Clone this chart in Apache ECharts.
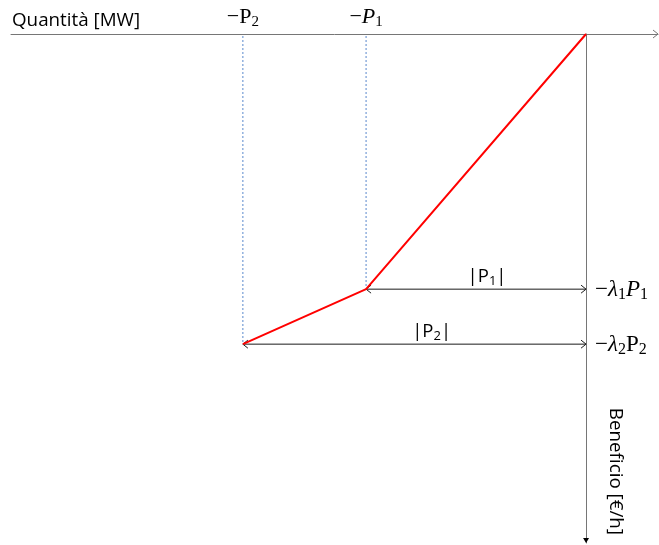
<!DOCTYPE html>
<html>
<head>
<meta charset="utf-8">
<script src="https://cdn.jsdelivr.net/npm/echarts@6/dist/echarts.min.js"></script>
<style>
  html, body { margin: 0; padding: 0; background: #fff; }
  #chart { width: 659px; height: 545px; }
</style>
</head>
<body>
<div id="chart"></div>
<script>
// dati (unità arbitrarie, stessa scala su entrambi gli assi)
const blockNames = ['P1', 'P2'];
const blockQty = [10, 15.6];        // |P_i|  [MW]
const blockBenefit = [11.6, 14.1];  // λ_i P_i  [€/h]

// etichette (testo rich di ECharts)
const qtyTickLabels = ['{m|−}{i|P}{s|1}', '{m|−}{u|P}{s|2}'];
const benefitTickLabels = ['{m|−}{i|λ}{s|1}{i|P}{s|1}', '{m|−}{i|λ}{s|2}{u|P}{s|2}'];
const spanLabels = ['|P{s|1}|', '|P{s|2}|'];

const serif = '"Liberation Serif", serif';
const sans = '"Open Sans", "Noto Sans", sans-serif';

const mathRich = {
  m: { fontFamily: serif, fontSize: 22, lineHeight: 26, color: '#000' },
  u: { fontFamily: serif, fontSize: 22, lineHeight: 26, color: '#000' },
  i: { fontFamily: serif, fontSize: 22, fontStyle: 'italic', lineHeight: 26, color: '#000' },
  s: { fontFamily: serif, fontSize: 15, lineHeight: 16, padding: [10, 0, 0, 0], color: '#000' }
};
// etichette a destra, un filo più grandi
const mathRichBig = {
  m: { fontFamily: serif, fontSize: 23, lineHeight: 27, color: '#000' },
  u: { fontFamily: serif, fontSize: 23, lineHeight: 27, color: '#000' },
  i: { fontFamily: serif, fontSize: 23, fontStyle: 'italic', lineHeight: 27, color: '#000' },
  s: { fontFamily: serif, fontSize: 16, lineHeight: 17, padding: [10, 0, 0, 0], color: '#000' }
};
const sansRich = {
  s: { fontFamily: sans, fontSize: 13, lineHeight: 14, padding: [9, 0, 0, 0], color: '#000' }
};

// spezzata rossa: origine e punti (-P_i, -λ_i P_i)
const curve = [[0, 0]];
blockQty.forEach((q, i) => curve.push([-q, -blockBenefit[i]]));

const X_MIN = -26.14, X_MAX = 3.27;
const Y_MIN = -23.14, Y_MAX = 0;

const chart = echarts.init(document.getElementById('chart'));

// freccia aperta "<" / ">" in pixel
function chevron(tip, dir, len, half, color) {
  const nx = -dir[1], ny = dir[0];
  return {
    type: 'polyline',
    shape: { points: [
      [tip[0] - dir[0] * len + nx * half, tip[1] - dir[1] * len + ny * half],
      tip,
      [tip[0] - dir[0] * len - nx * half, tip[1] - dir[1] * len - ny * half]
    ] },
    style: { stroke: color, lineWidth: 1, fill: null }
  };
}

const option = {
  animation: false,
  grid: { left: 11, right: 1, top: 34, bottom: 2, containLabel: false, outerBoundsMode: 'none' },
  xAxis: {
    type: 'value',
    position: 'top',
    min: X_MIN,
    max: X_MAX,
    name: 'Quantità [MW]',
    nameLocation: 'start',
    nameGap: 0,
    nameTextStyle: {
      fontFamily: sans, fontSize: 18.8, color: '#000',
      align: 'left', verticalAlign: 'bottom', padding: [0, 0, 4, 1]
    },
    axisLine: { onZero: true, lineStyle: { color: '#767676', width: 1 } },
    axisTick: { show: false },
    splitLine: { show: false },
    axisLabel: {
      customValues: blockQty.map(q => -q),
      margin: 4,
      formatter: (v) => qtyTickLabels[blockQty.indexOf(-v)] || '',
      rich: mathRich
    }
  },
  yAxis: {
    type: 'value',
    position: 'right',
    min: Y_MIN,
    max: Y_MAX,
    name: 'Beneficio [€/h]',
    nameLocation: 'start',
    nameGap: -8,
    nameRotate: -90,
    nameTextStyle: {
      fontFamily: sans, fontSize: 18.8, color: '#000',
      align: 'right', verticalAlign: 'bottom', padding: [0, 0, 20, 0]
    },
    axisLine: { onZero: true, lineStyle: { color: '#767676', width: 1 } },
    axisTick: { show: false },
    splitLine: { show: false },
    axisLabel: { show: false }
  },
  series: [
    {
      // linee guida tratteggiate, frecce doppie, etichette |P_i| e -λ_i P_i
      type: 'custom',
      clip: false,
      silent: true,
      data: blockQty.map((q, i) => [q, blockBenefit[i]]),
      renderItem: (params, api) => {
        const q = api.value(0), b = api.value(1);
        const top = api.coord([-q, 0]);
        const corner = api.coord([-q, -b]);
        const axisPt = api.coord([0, -b]);
        const midX = corner[0] + (axisPt[0] - corner[0]) * 0.55;
        return {
          type: 'group',
          children: [
            {
              type: 'line',
              shape: { x1: top[0], y1: top[1] + 2, x2: corner[0], y2: corner[1] },
              style: { stroke: '#5a88cc', lineWidth: 1, lineDash: [2, 2] }
            },
            {
              type: 'line',
              shape: { x1: corner[0], y1: corner[1], x2: axisPt[0], y2: axisPt[1] },
              style: { stroke: '#1a1a1a', lineWidth: 1 }
            },
            chevron(corner, [-1, 0], 5, 4, '#1a1a1a'),
            chevron(axisPt, [1, 0], 5, 4, '#1a1a1a'),
            {
              type: 'text',
              x: midX,
              y: corner[1] - 3,
              style: {
                text: spanLabels[params.dataIndex],
                fontFamily: sans, fontSize: 18.5, fill: '#000',
                align: 'center', verticalAlign: 'bottom',
                rich: sansRich
              }
            },
            {
              type: 'text',
              x: axisPt[0] + 9,
              y: axisPt[1] + 1,
              style: {
                text: benefitTickLabels[params.dataIndex],
                fontFamily: serif, fontSize: 23, fill: '#000',
                align: 'left', verticalAlign: 'middle',
                rich: mathRichBig
              }
            }
          ]
        };
      }
    },
    {
      // punte degli assi
      type: 'custom',
      clip: false,
      silent: true,
      data: [[0]],
      renderItem: (params, api) => {
        const xEnd = api.coord([X_MAX, 0]);
        const yEnd = api.coord([0, Y_MIN]);
        return {
          type: 'group',
          children: [
            chevron([xEnd[0], xEnd[1]], [1, 0], 5, 4, '#767676'),
            {
              type: 'polygon',
              shape: { points: [[yEnd[0] - 3, yEnd[1] - 5], [yEnd[0] + 3, yEnd[1] - 5], [yEnd[0], yEnd[1]]] },
              style: { fill: '#000' }
            }
          ]
        };
      }
    },
    {
      name: 'Offerta',
      type: 'line',
      data: curve,
      symbol: 'none',
      lineStyle: { color: '#ff0000', width: 2 },
      z: 5
    }
  ]
};

chart.setOption(option);
</script>
</body>
</html>
